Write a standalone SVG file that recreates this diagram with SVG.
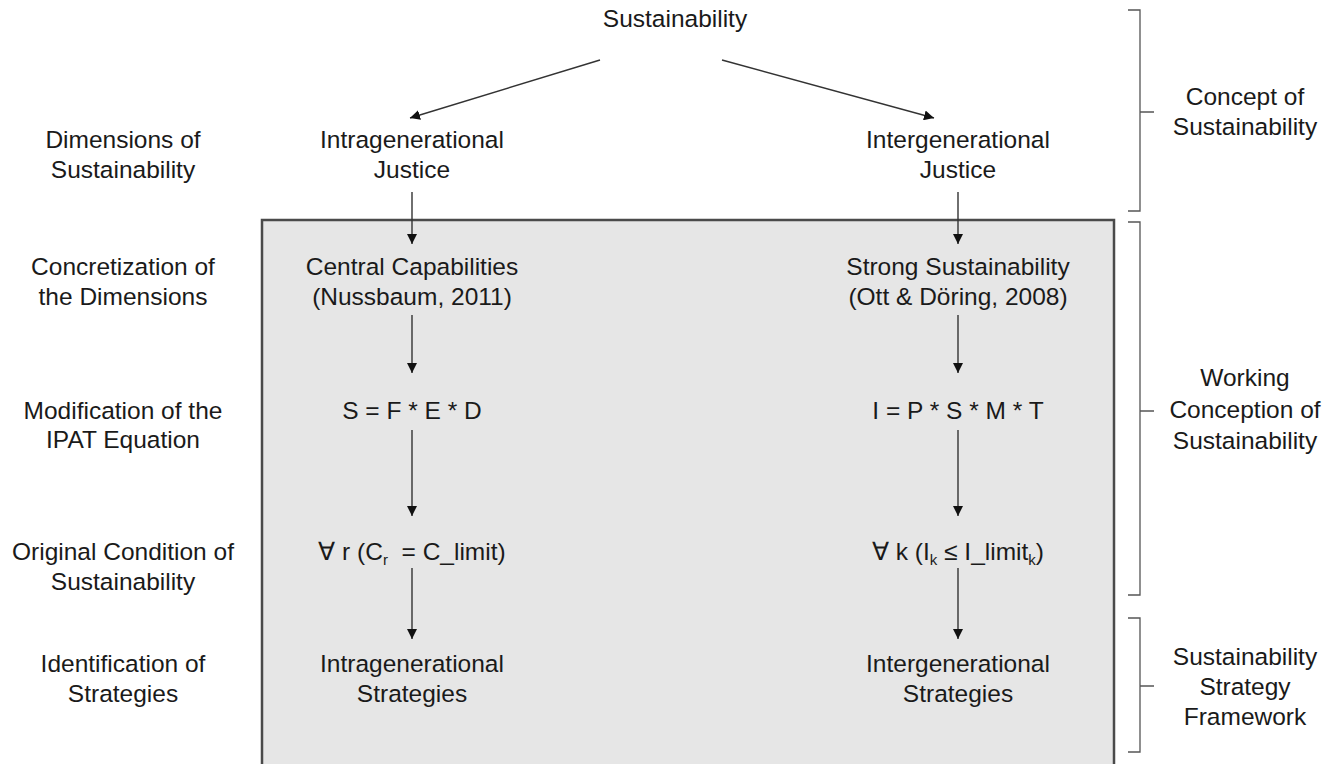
<svg xmlns="http://www.w3.org/2000/svg" width="1343" height="764" viewBox="0 0 1343 764">
<defs>
<marker id="ah" viewBox="0 0 10 10" refX="10" refY="5" markerWidth="10" markerHeight="10" markerUnits="userSpaceOnUse" orient="auto">
<path d="M0,0 L10,5 L0,10 Z" fill="#111"/>
</marker>
<style>
text{font-family:"Liberation Sans",Arial,sans-serif;font-size:24.5px;fill:#1a1a1a;text-anchor:middle}
.sub{font-size:15px}
.c{stroke:#333;stroke-width:1.4;fill:none;marker-end:url(#ah)}
.b{stroke:#555;stroke-width:1.3;fill:none}
</style>
</defs>
<rect width="1343" height="764" fill="#fff"/>
<g id="frame"><rect x="262" y="220" width="852" height="560" fill="#e6e6e6" stroke="#4a4a4a" stroke-width="2.5"/></g>
<g id="braces">
<path class="b" d="M1128,10 H1140 V211 H1128 M1140,112 H1154"/>
<path class="b" d="M1128,222 H1140 V595 H1128 M1140,411 H1154"/>
<path class="b" d="M1128,618 H1140 V752 H1128 M1140,686 H1154"/>
</g>
<g id="connectors">
<line class="c" x1="600" y1="60" x2="410" y2="118"/>
<line class="c" x1="722" y1="60" x2="934" y2="118"/>
<line class="c" x1="412" y1="192" x2="412" y2="244"/>
<line class="c" x1="412" y1="315" x2="412" y2="373"/>
<line class="c" x1="412" y1="430" x2="412" y2="516"/>
<line class="c" x1="412" y1="568" x2="412" y2="639"/>
<line class="c" x1="958" y1="192" x2="958" y2="244"/>
<line class="c" x1="958" y1="315" x2="958" y2="373"/>
<line class="c" x1="958" y1="430" x2="958" y2="516"/>
<line class="c" x1="958" y1="568" x2="958" y2="639"/>
</g>
<g id="n-sustainability"><text x="675" y="27">Sustainability</text></g>
<g id="n-intra-justice"><text x="412" y="148">Intragenerational</text><text x="412" y="178">Justice</text></g>
<g id="n-inter-justice"><text x="958" y="148">Intergenerational</text><text x="958" y="178">Justice</text></g>
<g id="n-capabilities"><text x="412" y="275">Central Capabilities</text><text x="412" y="305">(Nussbaum, 2011)</text></g>
<g id="n-strong"><text x="958" y="275">Strong Sustainability</text><text x="958" y="305">(Ott &amp; Döring, 2008)</text></g>
<g id="n-sfed"><text x="412" y="419">S = F * E * D</text></g>
<g id="n-ipsmt"><text x="958" y="419">I = P * S * M * T</text></g>
<g id="n-cond-r"><text x="412" y="560">∀ r (C<tspan class="sub" dy="5">r</tspan><tspan dy="-5">&#160; = C_limit)</tspan></text></g>
<g id="n-cond-k"><text x="958" y="560">∀ k (I<tspan class="sub" dy="5">k</tspan><tspan dy="-5"> ≤ I_limit</tspan><tspan class="sub" dy="5">k</tspan><tspan dy="-5">)</tspan></text></g>
<g id="n-intra-strat"><text x="412" y="672">Intragenerational</text><text x="412" y="702">Strategies</text></g>
<g id="n-inter-strat"><text x="958" y="672">Intergenerational</text><text x="958" y="702">Strategies</text></g>
<g id="labels-left">
<text x="123" y="148">Dimensions of</text><text x="123" y="178">Sustainability</text>
<text x="123" y="275">Concretization of</text><text x="123" y="305">the Dimensions</text>
<text x="123" y="419">Modification of the</text><text x="123" y="448">IPAT Equation</text>
<text x="123" y="560">Original Condition of</text><text x="123" y="590">Sustainability</text>
<text x="123" y="672">Identification of</text><text x="123" y="702">Strategies</text>
</g>
<g id="labels-right">
<text x="1245" y="105">Concept of</text><text x="1245" y="135">Sustainability</text>
<text x="1245" y="386">Working</text><text x="1245" y="418">Conception of</text><text x="1245" y="449">Sustainability</text>
<text x="1245" y="665">Sustainability</text><text x="1245" y="695">Strategy</text><text x="1245" y="725">Framework</text>
</g>
</svg>
